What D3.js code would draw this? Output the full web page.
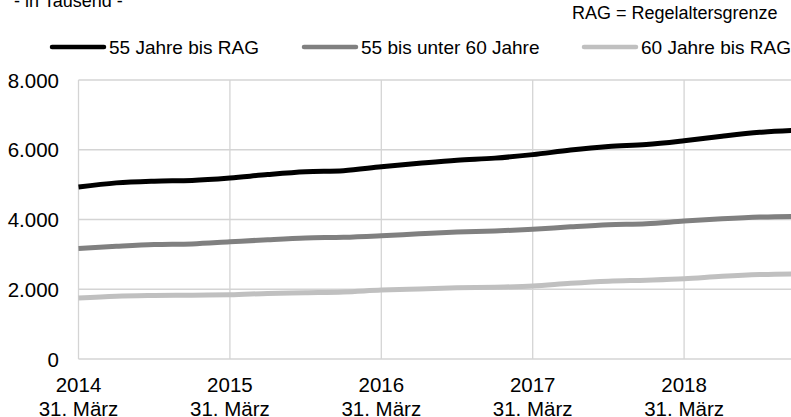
<!DOCTYPE html>
<html>
<head>
<meta charset="utf-8">
<script src="https://cdn.jsdelivr.net/npm/d3@7"></script>
<style>
  body { margin: 0; background: #fff; }
  text { font-family: "Liberation Sans", Arial, sans-serif; fill: #000; }
</style>
</head>
<body>
<script>
// quarterly values, 31. März 2014 to 31. Dez. 2018 (in Tausend)
var quarters = d3.range(20);
var yearTicks = [0, 4, 8, 12, 16];
var yearLabels = ["2014", "2015", "2016", "2017", "2018"];
var yTicks = [0, 2000, 4000, 6000, 8000];

var seriesNames = ["55 Jahre bis RAG", "55 bis unter 60 Jahre", "60 Jahre bis RAG"];
var seriesColors = ["#000000", "#808080", "#c0c0c0"];

var all55 = [4930, 5050, 5100, 5120, 5190, 5290, 5370, 5400, 5510, 5610, 5700, 5760, 5860, 5990, 6090, 6150, 6260, 6390, 6500, 6560];
var from55to60 = [3170, 3230, 3280, 3300, 3360, 3420, 3470, 3490, 3535, 3590, 3640, 3670, 3720, 3790, 3850, 3880, 3955, 4020, 4070, 4090];
var from60 = [1750, 1800, 1820, 1830, 1840, 1880, 1900, 1920, 1975, 2010, 2040, 2060, 2090, 2170, 2230, 2260, 2300, 2370, 2420, 2440];

var seriesValues = [all55, from55to60, from60];

var svgWidth = 791;
var svgHeight = 417;

var svg = d3.select("body")
  .append("svg")
  .attr("width", svgWidth)
  .attr("height", svgHeight);

// plot runs past the right edge of the window, like the original
var xScale = d3.scaleLinear()
  .domain([0, 19])
  .range([78.5, 78.5 + 19 * 37.85]);

var yScale = d3.scaleLinear()
  .domain([0, 8000])
  .range([359, 80]);

// gridlines
svg.append("g")
  .selectAll("line")
  .data(yTicks)
  .enter()
  .append("line")
  .attr("x1", xScale(0))
  .attr("x2", svgWidth)
  .attr("y1", d => yScale(d))
  .attr("y2", d => yScale(d))
  .attr("stroke", "#d4d4d4")
  .attr("stroke-width", 1.3);

svg.append("g")
  .selectAll("line")
  .data(yearTicks)
  .enter()
  .append("line")
  .attr("x1", d => xScale(d))
  .attr("x2", d => xScale(d))
  .attr("y1", yScale(8000))
  .attr("y2", yScale(0))
  .attr("stroke", "#d4d4d4")
  .attr("stroke-width", 1.3);

// y labels
svg.append("g")
  .selectAll("text")
  .data(yTicks)
  .enter()
  .append("text")
  .attr("x", 59)
  .attr("y", d => yScale(d) + 7.5)
  .attr("text-anchor", "end")
  .style("font-size", "20.5px")
  .text(d => d3.format(",")(d).replace(/,/g, "."));

// x labels
var xLab = svg.append("g")
  .selectAll("g")
  .data(yearTicks)
  .enter()
  .append("g");

xLab.append("text")
  .attr("x", d => xScale(d))
  .attr("y", 392)
  .attr("text-anchor", "middle")
  .style("font-size", "20.5px")
  .text((d, i) => yearLabels[i]);

xLab.append("text")
  .attr("x", d => xScale(d))
  .attr("y", 416)
  .attr("text-anchor", "middle")
  .style("font-size", "20.5px")
  .text("31. März");

// lines
var line = d3.line()
  .x((d, i) => xScale(quarters[i]))
  .y(d => yScale(d))
  .curve(d3.curveMonotoneX);

svg.append("g")
  .selectAll("path")
  .data(seriesValues.slice().reverse())
  .enter()
  .append("path")
  .attr("d", line)
  .attr("fill", "none")
  .attr("stroke", (d, i) => seriesColors[2 - i])
  .attr("stroke-width", 5)
  .attr("stroke-linejoin", "round");

// titles
svg.append("text")
  .attr("x", 14)
  .attr("y", 7)
  .style("font-size", "18px")
  .text("- in Tausend -");

svg.append("text")
  .attr("x", 572)
  .attr("y", 19)
  .style("font-size", "18px")
  .text("RAG = Regelaltersgrenze");

// legend
var legendX = [51, 303, 583];
var legend = svg.append("g")
  .selectAll("g")
  .data(seriesNames)
  .enter()
  .append("g")
  .attr("transform", (d, i) => `translate(${legendX[i]}, 47)`);

legend.append("line")
  .attr("x1", 1)
  .attr("x2", 53)
  .attr("stroke", (d, i) => seriesColors[i])
  .attr("stroke-width", 4.5)
  .attr("stroke-linecap", "round");

legend.append("text")
  .attr("x", 58)
  .attr("y", 6.5)
  .style("font-size", "19px")
  .text(d => d);
</script>
</body>
</html>
